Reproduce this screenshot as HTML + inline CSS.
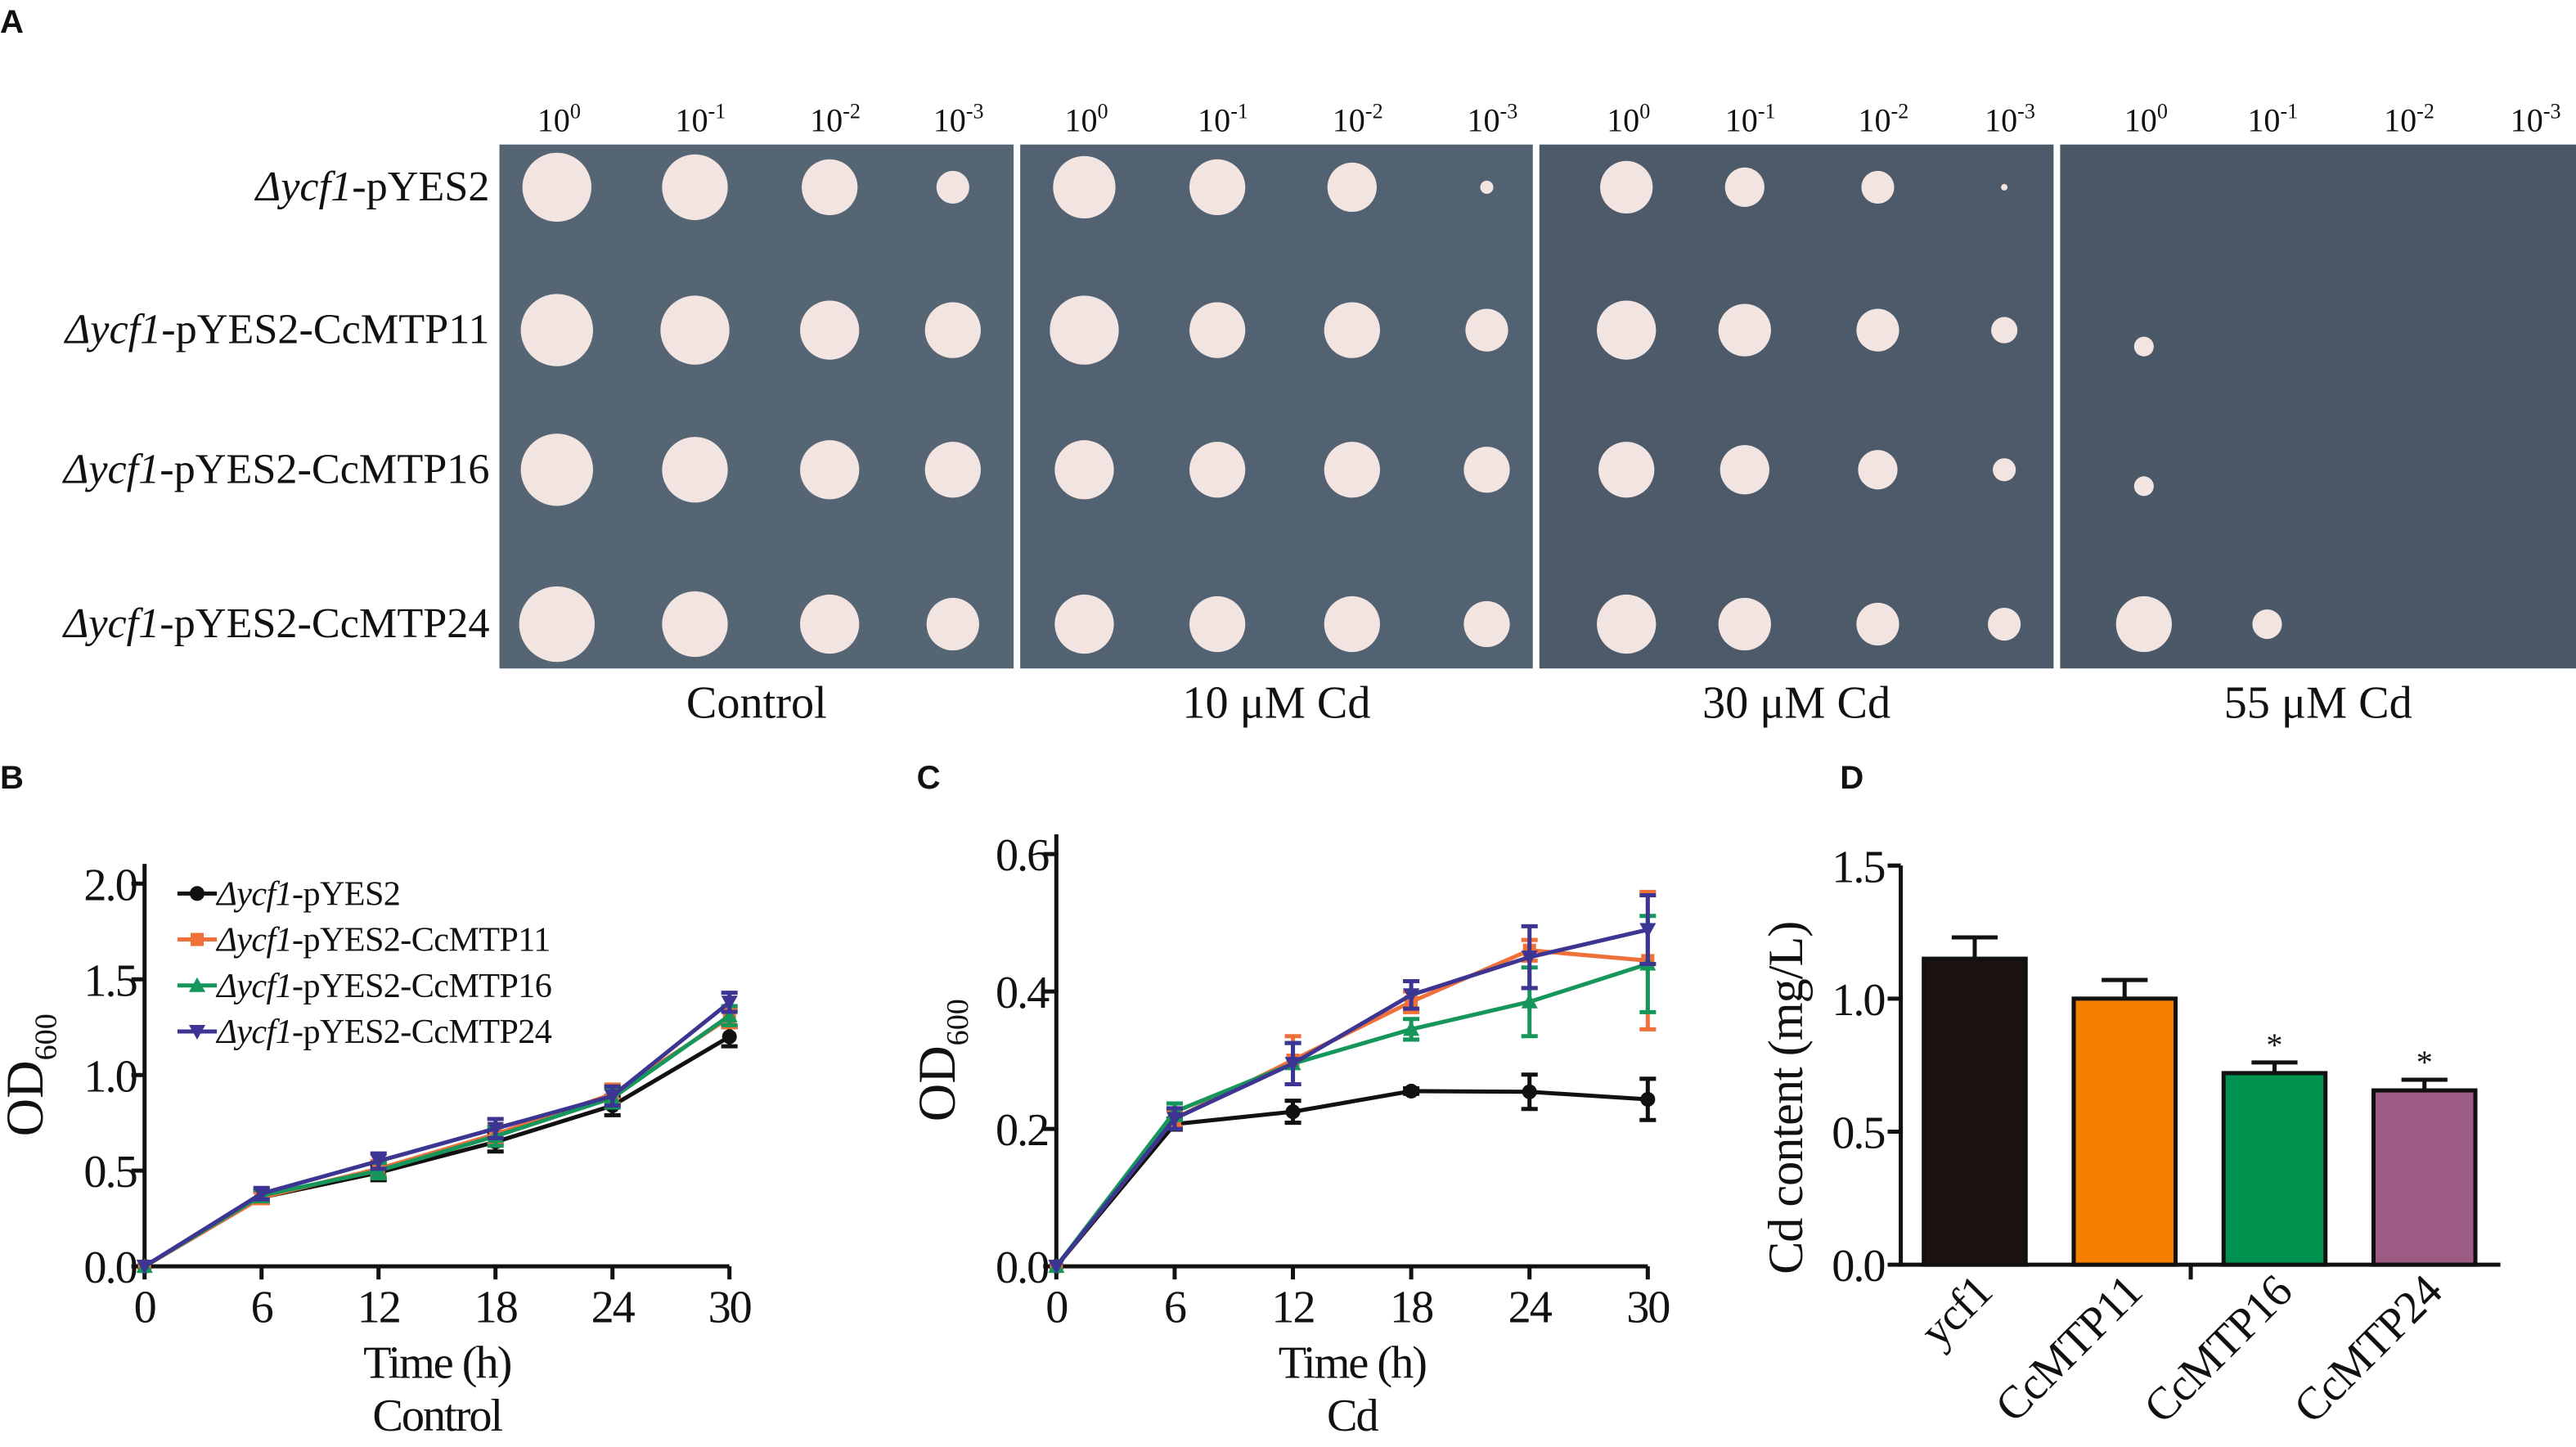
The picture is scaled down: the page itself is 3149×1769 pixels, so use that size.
<!DOCTYPE html>
<html><head><meta charset="utf-8"><style>
html,body{margin:0;padding:0;background:#fff}
svg{display:block}
text{font-family:"Liberation Serif",serif;fill:#111}
.lbl{font-family:"Liberation Sans",sans-serif;font-weight:bold}
</style></head><body>
<svg id="fig" xmlns="http://www.w3.org/2000/svg" width="3149" height="1769" viewBox="0 0 1568 881" preserveAspectRatio="none">
<text class="lbl" x="0" y="20" font-size="20">A</text>
<text class="lbl" x="0" y="480" font-size="20">B</text>
<text class="lbl" x="558" y="480" font-size="20">C</text>
<text class="lbl" x="1120" y="480" font-size="20">D</text>
<g id="plates"></g>
<g id="chartB"></g>
<g id="chartC"></g>
<g id="chartD"></g>
</svg>
<script>
// ---------- Data ----------
const times = [0, 6, 12, 18, 24, 30];
const seriesNames = ["pYES2", "CcMTP11", "CcMTP16", "CcMTP24"];
const seriesColors = ["#111111", "#f0703a", "#16965a", "#3d3592"];
const bBlack = [0, 0.36, 0.49, 0.65, 0.84, 1.20];
const bOrange = [0, 0.36, 0.51, 0.69, 0.90, 1.30];
const bGreen = [0, 0.37, 0.50, 0.68, 0.88, 1.31];
const bPurple = [0, 0.38, 0.55, 0.72, 0.89, 1.38];
const bErr = [0, 0.03, 0.04, 0.05, 0.05, 0.05];
const cBlack = [0, 0.207, 0.225, 0.255, 0.254, 0.243];
const cBlackErr = [0, 0.008, 0.016, 0.004, 0.025, 0.03];
const cOrange = [0, 0.215, 0.300, 0.385, 0.460, 0.445];
const cOrangeErr = [0, 0.012, 0.035, 0.015, 0.015, 0.10];
const cGreen = [0, 0.225, 0.295, 0.345, 0.385, 0.440];
const cGreenErr = [0, 0.012, 0.03, 0.015, 0.05, 0.07];
const cPurple = [0, 0.215, 0.295, 0.395, 0.450, 0.490];
const cPurpleErr = [0, 0.015, 0.03, 0.02, 0.045, 0.05];
const bTicks = ["0.0", "0.5", "1.0", "1.5", "2.0"];
const cTicks = ["0.0", "0.2", "0.4", "0.6"];
const dTicks = ["0.0", "0.5", "1.0", "1.5"];
const dCats = ["ycf1", "CcMTP11", "CcMTP16", "CcMTP24"];
const dVals = [1.15, 1.00, 0.72, 0.655];
const dErr = [0.08, 0.07, 0.04, 0.04];
const dColors = ["#1c1211", "#f77f00", "#00914e", "#9b5b82"];
const dSig = ["", "", "*", "*"];

const NS = "http://www.w3.org/2000/svg";
function mk(tag, attrs, parent, txt) {
  const e = document.createElementNS(NS, tag);
  for (const k in attrs) e.setAttribute(k, attrs[k]);
  if (txt !== undefined) e.textContent = txt;
  parent.appendChild(e);
  return e;
}

// ---------- Panel A ----------
const P = document.getElementById("plates");
const plateX = [304, 621, 937, 1254];
const plateW = [313, 312, 313, 314];
const plateFill = ["#566574", "#536272", "#4c5a69", "#4a5867"];
const rowY = [114, 201, 286, 380];
const colX = [[339, 423, 505, 580], [660, 741, 823, 905], [990, 1062, 1143, 1220], [1305, 1380, 1463, 1540]];
const radii = [
  [[21,20,17,10],[22,21,18,17],[22,20,18,17],[23,20,18,16]],
  [[19,17,15,4],[21,17,17,13],[18,17,17,14],[18,17,17,14]],
  [[16,12,10,2],[18,16,13,8],[17,15,12,7],[18,16,13,10]],
  [[0,0,0,0],[6,0,0,0],[6,0,0,0],[17,9,0,0]]
];
const dil = ["0", "-1", "-2", "-3"];
const rowNames = ["pYES2", "pYES2-CcMTP11", "pYES2-CcMTP16", "pYES2-CcMTP24"];
const captions = ["Control", "10 μM Cd", "30 μM Cd", "55 μM Cd"];
for (let p = 0; p < 4; p++) {
  const r = mk("rect", {x: plateX[p], y: 88, width: plateW[p], height: 319, fill: plateFill[p]}, P);
  
  
  for (let c = 0; c < 4; c++) {
    const t = mk("text", {x: colX[p][c] - 12, y: 80, "font-size": 20}, P);
    
    
    mk("tspan", {}, t, "10");
    mk("tspan", {dy: -8, "font-size": 13}, t, dil[c]);
    for (let rw = 0; rw < 4; rw++) {
      const rad = radii[p][rw][c];
      if (rad > 0) {
        const cc = mk("circle", {cx: colX[p][c], cy: rowY[rw] + (p === 3 && rw > 0 && rw < 3 ? 10 : 0), r: rad, fill: "#f2e4e0"}, P);
        
        
      }
    }
  }
  const cap = mk("text", {x: plateX[p] + plateW[p] / 2, y: 437, "font-size": 28, "text-anchor": "middle"}, P, captions[p]);
  
  
}
for (let rw = 0; rw < 4; rw++) {
  const t = mk("text", {x: 298, y: rowY[rw] + 8, "font-size": 26, "text-anchor": "end"}, P);
  
  
  mk("tspan", {"font-style": "italic"}, t, "Δycf1");
  mk("tspan", {}, t, "-" + rowNames[rw]);
}

function marker(g, i, X, Y, col) {
  let m;
  if (i === 0) m = mk("circle", {cx: X, cy: Y, r: 4.5, fill: col}, g);
  else if (i === 1) m = mk("rect", {x: X - 4, y: Y - 4, width: 8, height: 8, fill: col}, g);
  else if (i === 2) m = mk("path", {d: `M${X},${Y - 5}L${X + 5},${Y + 4}H${X - 5}Z`, fill: col}, g);
  else m = mk("path", {d: `M${X},${Y + 5}L${X + 5},${Y - 4}H${X - 5}Z`, fill: col}, g);
  return m;
}

// ---------- Line chart helper ----------
function lineChart(g, x0, x1, y0, ytop, ymax, ticks, series, errs, title2, legend) {
  const sx = v => x0 + (v / 30) * (x1 - x0);
  const sy = v => y0 - (v / ymax) * (y0 - ytop);
  const ax = mk("path", {d: `M${x0},${ytop - 12}V${y0}H${x1}`, fill: "none", stroke: "#111", "stroke-width": 2.5}, g);
  
  
  ticks.forEach(tk => {
    const v = parseFloat(tk);
    mk("line", {x1: x0 - 8, x2: x0, y1: sy(v), y2: sy(v), stroke: "#111", "stroke-width": 2.5}, g);
    const t = mk("text", {x: x0 - 5, y: sy(v) + 10, "font-size": 28, "text-anchor": "end", "letter-spacing": -1}, g, tk);
    
    
  });
  times.forEach(tm => {
    mk("line", {x1: sx(tm), x2: sx(tm), y1: y0, y2: y0 + 8, stroke: "#111", "stroke-width": 2.5}, g);
    const t = mk("text", {x: sx(tm), y: y0 + 34, "font-size": 28, "text-anchor": "middle", "letter-spacing": -1}, g, String(tm));
    
    
  });
  const xt = mk("text", {x: (x0 + x1) / 2, y: y0 + 68, "font-size": 28, "text-anchor": "middle", "letter-spacing": -1}, g, "Time (h)");
  
  
  const xt2 = mk("text", {x: (x0 + x1) / 2, y: y0 + 100, "font-size": 28, "text-anchor": "middle", "letter-spacing": -1}, g, title2);
  
  
  const yl = mk("text", {transform: `translate(${x0 - 62},${(y0 + ytop) / 2}) rotate(-90)`, "font-size": 32, "text-anchor": "middle"}, g);
  
  
  mk("tspan", {}, yl, "OD");
  mk("tspan", {dy: 8, "font-size": 19}, yl, "600");
  series.forEach((s, i) => {
    const col = seriesColors[i];
    const ln = mk("polyline", {points: s.map((v, j) => sx(times[j]) + "," + sy(v)).join(" "), fill: "none", stroke: col, "stroke-width": 2.5}, g);
    
    
    s.forEach((v, j) => {
      const e = errs[i][j], X = sx(times[j]);
      if (e > 0) {
        mk("path", {d: `M${X},${sy(v - e)}V${sy(v + e)}M${X - 5},${sy(v - e)}H${X + 5}M${X - 5},${sy(v + e)}H${X + 5}`, stroke: col, "stroke-width": 2.5, fill: "none"}, g);
      }
      const m = marker(g, i, X, sy(v), col);
      
      
    });
  });
  if (legend) {
    seriesNames.forEach((n, i) => {
      const y = 544 + i * 28;
      mk("line", {x1: 108, x2: 132, y1: y, y2: y, stroke: seriesColors[i], "stroke-width": 2.5}, g);
      marker(g, i, 120, y, seriesColors[i]);
      const t = mk("text", {x: 132, y: y + 7, "font-size": 21, "letter-spacing": -0.3}, g);
      
      
      mk("tspan", {"font-style": "italic"}, t, "Δycf1");
      mk("tspan", {}, t, "-pYES2" + (i ? "-" + n : ""));
    });
  }
}
lineChart(document.getElementById("chartB"), 88, 444, 771, 538, 2.0, bTicks,
  [bBlack, bOrange, bGreen, bPurple], [bErr, bErr, bErr, bErr], "Control", true);
lineChart(document.getElementById("chartC"), 643, 1003, 771, 520, 0.6, cTicks,
  [cBlack, cOrange, cGreen, cPurple], [cBlackErr, cOrangeErr, cGreenErr, cPurpleErr], "Cd", false);

// ---------- Panel D ----------
(function () {
  const g = document.getElementById("chartD");
  const x0 = 1157, x1 = 1522, y0 = 770, ytop = 527, ymax = 1.5;
  const sy = v => y0 - (v / ymax) * (y0 - ytop);
  const step = (x1 - x0) / 4, bw = 62;
  const ax = mk("path", {d: `M${x0},${ytop}V${y0}H${x1}M${x0 + 2 * step - 6},${y0}v9`, fill: "none", stroke: "#111", "stroke-width": 2.5}, g);
  
  
  dTicks.forEach(tk => {
    const v = parseFloat(tk);
    mk("line", {x1: x0 - 8, x2: x0, y1: sy(v), y2: sy(v), stroke: "#111", "stroke-width": 2.5}, g);
    const t = mk("text", {x: x0 - 10, y: sy(v) + 10, "font-size": 28, "text-anchor": "end", "letter-spacing": -1}, g, tk);
    
    
  });
  const yl = mk("text", {transform: `translate(${x0 - 60},${(y0 + ytop) / 2 + 20}) rotate(-90)`, "font-size": 30, "text-anchor": "middle", "letter-spacing": -0.5}, g, "Cd content (mg/L)");
  
  
  dCats.forEach((c, i) => {
    const cx = x0 + 14 + bw / 2 + i * step;
    const top = sy(dVals[i]), et = sy(dVals[i] + dErr[i]);
    mk("path", {d: `M${cx},${top}V${et}M${cx - 14},${et}H${cx + 14}`, stroke: "#111", "stroke-width": 2.5, fill: "none"}, g);
    const b = mk("rect", {x: cx - bw / 2, y: top, width: bw, height: y0 - top, fill: dColors[i], stroke: "#111", "stroke-width": 2.5}, g);
    
    
    if (dSig[i]) {
      const s = mk("text", {x: cx, y: et - 4, "font-size": 20, "text-anchor": "middle"}, g, dSig[i]);
      
      
    }
    const t = mk("text", {transform: `translate(${cx + 12},${y0 + 18}) rotate(-45)`, "font-size": 28, "text-anchor": "end", "letter-spacing": -0.5}, g, c);
    
    
  });
})();
</script>
</body></html>
